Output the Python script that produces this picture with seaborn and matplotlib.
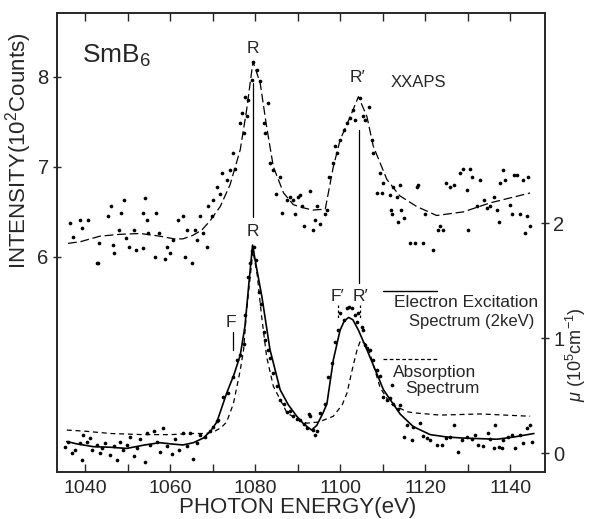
import matplotlib
matplotlib.use('Agg')

import pandas as pd
import matplotlib.pyplot as plt
import seaborn as sns

# ----------------------------------------------------
# data
# ----------------------------------------------------
# XXAPS (upper, left axis, 10^2 counts) - fitted dashed curve
xxaps_fit_e = [1036, 1039, 1043.5, 1048, 1053, 1057.6, 1061, 1063, 1065.4, 1067.5, 1069.4,
               1071.8, 1074.1, 1076.5, 1078, 1079.5, 1081.2, 1082.7, 1084.3, 1086.7, 1089,
               1091, 1093.5, 1096.5, 1098.4, 1100, 1102.4, 1104.3, 1106.3, 1107.8, 1111,
               1114, 1118, 1122.7, 1129, 1135.3, 1144.7]
xxaps_fit_i = [6.15, 6.17, 6.23, 6.25, 6.26, 6.23, 6.2, 6.2, 6.24, 6.3, 6.4,
               6.56, 6.8, 7.19, 7.63, 8.17, 7.93, 7.45, 7.0, 6.71, 6.58,
               6.55, 6.52, 6.53, 7.0, 7.3, 7.56, 7.78, 7.56, 7.23, 6.86,
               6.68, 6.56, 6.46, 6.5, 6.6, 6.71]

# XXAPS measured points
xxaps_pts_e = [1036.5, 1037.2, 1038.8, 1039.2, 1040.8, 1042.7, 1043.1, 1043.3, 1045.3, 1046.1,
               1046.5, 1046.8, 1048.0, 1048.5, 1049.2, 1049.6, 1050.4, 1051.6, 1052.0, 1053.6,
               1053.7, 1054.0, 1054.6, 1054.9, 1056.5, 1056.7, 1057.5, 1058.8, 1059.2, 1060.0,
               1060.8, 1061.9, 1063.1, 1063.5, 1063.9, 1065.1, 1065.9, 1066.3, 1067.0, 1067.8,
               1068.6, 1069.0, 1069.8, 1070.2, 1071.0, 1071.8, 1072.1, 1073.3, 1074.1, 1074.9,
               1075.3, 1076.5, 1077.0, 1077.3, 1077.6, 1078.0, 1078.4, 1079.2, 1079.6, 1080.4,
               1081.2, 1082.0, 1082.3, 1083.1, 1083.5, 1084.3, 1085.0, 1085.9, 1086.3, 1087.5,
               1088.2, 1089.0, 1089.4, 1090.2, 1090.6, 1091.0, 1091.4, 1092.9, 1093.7, 1094.1,
               1094.5, 1095.3, 1096.5, 1096.9, 1097.3, 1098.4, 1098.8, 1099.2, 1100.0, 1100.8,
               1101.6, 1102.4, 1103.1, 1103.5, 1104.7, 1105.5, 1105.9, 1106.7, 1107.5, 1107.8,
               1108.6, 1109.4, 1109.8, 1110.2, 1111.8, 1112.0, 1112.2, 1112.5, 1113.3, 1113.6,
               1114.0, 1114.4, 1115.0, 1116.5, 1117.6, 1118.0, 1118.4, 1119.6, 1120.0, 1121.9,
               1123.1, 1123.5, 1124.3, 1125.0, 1125.9, 1126.7, 1128.2, 1129.0, 1129.8, 1130.2,
               1130.6, 1131.0, 1132.2, 1133.0, 1133.8, 1134.5, 1135.3, 1136.1, 1136.9, 1137.3,
               1137.6, 1138.4, 1138.8, 1140.0, 1140.4, 1140.8, 1141.6, 1142.3, 1143.1, 1143.5,
               1143.9, 1144.3, 1144.7]
xxaps_pts_i = [6.38, 6.22, 6.41, 6.32, 6.41, 5.93, 5.93, 6.15, 6.45, 6.56,
               6.13, 6.04, 6.30, 6.49, 6.63, 6.21, 6.11, 6.30, 6.08, 6.10,
               6.49, 6.65, 6.41, 6.27, 6.00, 6.49, 6.27, 5.98, 6.11, 6.04,
               6.19, 6.41, 6.45, 6.00, 6.30, 5.93, 6.30, 6.19, 6.45, 6.27,
               6.11, 6.56, 6.45, 6.63, 6.78, 6.70, 6.93, 6.85, 6.96, 7.15,
               6.98, 7.49, 7.60, 7.38, 7.78, 7.56, 7.74, 7.97, 8.17, 8.08,
               7.95, 7.49, 7.38, 7.71, 7.04, 6.96, 6.70, 6.89, 6.49, 6.63,
               6.67, 6.63, 6.48, 6.67, 6.69, 6.56, 6.34, 6.73, 6.30, 6.41,
               6.56, 6.37, 6.48, 6.52, 6.89, 7.04, 7.23, 7.15, 7.30, 7.41,
               7.49, 7.54, 7.63, 7.52, 7.76, 7.56, 7.52, 7.67, 7.30, 7.15,
               6.71, 6.93, 6.71, 6.82, 6.69, 6.52, 6.48, 6.78, 6.67, 6.39,
               6.80, 6.52, 6.43, 6.15, 6.15, 6.78, 6.80, 6.15, 6.48, 6.08,
               6.30, 6.34, 6.30, 6.82, 6.78, 6.80, 6.93, 6.98, 6.74, 6.30,
               6.98, 6.89, 6.56, 6.85, 6.63, 6.54, 6.56, 6.67, 6.52, 6.39,
               6.82, 6.96, 6.85, 6.58, 6.48, 6.91, 6.91, 6.48, 6.85, 6.26,
               6.45, 6.89, 6.34]

# Electron excitation spectrum (2 keV), solid curve, right axis units
eels_fit_e = [1035.7, 1038, 1042, 1046, 1049.8, 1054, 1057.6, 1060, 1063, 1065.5, 1067.8,
              1069.5, 1071, 1073.3, 1075, 1076.5, 1077.6, 1078.6, 1079.4, 1080.4, 1081.6,
              1083.5, 1085.9, 1087.8, 1089.8, 1091.5, 1093.3, 1094.5, 1096, 1096.9, 1098.4,
              1100, 1101, 1102, 1103, 1104.3, 1106.3, 1110.2, 1114.1, 1117.2, 1121.2,
              1125, 1129, 1136.9, 1141, 1145.6]
eels_fit_mu = [0.10, 0.08, 0.055, 0.05, 0.04, 0.07, 0.09, 0.08, 0.07, 0.09, 0.13,
               0.19, 0.27, 0.52, 0.68, 0.85, 1.10, 1.50, 1.81, 1.60, 1.36,
               0.90, 0.55, 0.42, 0.32, 0.25, 0.20, 0.24, 0.35, 0.43, 0.81,
               1.07, 1.15, 1.18, 1.16, 1.07, 0.90, 0.55, 0.34, 0.23, 0.16,
               0.14, 0.13, 0.12, 0.14, 0.17]

# electron excitation measured points
eels_pts_e = [1035.3, 1036.1, 1036.9, 1037.6, 1038.8, 1039.2, 1039.6, 1040.4, 1041.2, 1041.6,
              1042.7, 1043.5, 1043.9, 1044.7, 1045.9, 1046.7, 1047.5, 1048.2, 1049.0, 1049.8,
              1050.6, 1051.4, 1052.2, 1053.0, 1054.1, 1054.5, 1055.3, 1056.1, 1056.9, 1057.6,
              1058.4, 1059.2, 1060.4, 1061.2, 1062.0, 1063.1, 1063.9, 1064.7, 1065.5, 1066.3,
              1067.1, 1068.2, 1069.4, 1070.2, 1071.0, 1071.3, 1072.5, 1073.7, 1074.9, 1075.7,
              1076.4, 1077.3, 1077.6, 1078.4, 1078.8, 1079.3, 1079.7, 1080.2, 1080.8, 1081.4,
              1082.0, 1082.4, 1083.1, 1083.5, 1084.3, 1085.1, 1085.9, 1086.7, 1087.5, 1088.2,
              1089.0, 1089.8, 1090.6, 1091.4, 1092.2, 1092.6, 1093.0, 1093.7, 1094.1, 1094.5,
              1095.3, 1096.5, 1097.2, 1098.0, 1098.8, 1099.6, 1100.0, 1100.8, 1101.6, 1102.2,
              1102.7, 1103.4, 1103.9, 1104.3, 1105.1, 1105.5, 1105.9, 1106.3, 1107.1, 1107.8,
              1108.6, 1109.4, 1110.2, 1111.0, 1111.8, 1112.2, 1112.5, 1113.7, 1114.1, 1115.0,
              1115.7, 1116.9, 1117.2, 1118.8, 1119.6, 1120.4, 1121.2, 1122.7, 1123.9, 1125.0,
              1125.9, 1126.7, 1127.8, 1128.6, 1129.8, 1131.0, 1131.8, 1132.5, 1133.7, 1134.9,
              1135.3, 1136.1, 1136.5, 1137.3, 1138.0, 1138.4, 1139.6, 1140.4, 1141.2, 1142.3,
              1143.1, 1143.9, 1144.7, 1145.1]
eels_pts_mu = [0.055, 0.10, 0.00, 0.03, 0.09, -0.06, 0.16, 0.10, 0.13, 0.03,
               0.07, 0.00, 0.04, 0.09, -0.02, 0.06, -0.06, 0.10, 0.03, 0.07,
               0.14, -0.03, 0.04, 0.12, -0.08, 0.17, 0.07, 0.19, 0.10, 0.01,
               0.22, 0.06, -0.01, 0.12, 0.03, 0.17, 0.06, 0.17, -0.05, 0.09,
               0.16, 0.14, 0.19, 0.23, 0.28, 0.29, 0.49, 0.52, 0.66, 0.81,
               0.85, 0.95, 1.20, 1.53, 1.65, 1.76, 1.79, 1.68, 1.40, 1.30,
               1.05, 0.98, 0.90, 0.83, 0.70, 0.58, 0.46, 0.43, 0.36, 0.37,
               0.32, 0.30, 0.29, 0.25, 0.22, 0.34, 0.32, 0.20, 0.16, 0.19,
               0.35, 0.43, 0.66, 0.78, 0.97, 1.07, 1.22, 1.16, 1.26, 1.27,
               1.26, 1.20, 1.14, 1.22, 1.10, 1.07, 0.94, 0.91, 0.90, 0.81,
               0.72, 0.67, 0.49, 0.46, 0.48, 0.59, 0.43, 0.38, 0.42, 0.14,
               0.24, 0.11, 0.23, 0.26, 0.15, 0.13, 0.11, 0.07, 0.07, 0.13,
               0.14, 0.24, 0.01, 0.11, 0.14, 0.12, 0.16, 0.07, 0.06, 0.17,
               0.12, 0.04, 0.24, 0.05, 0.04, 0.11, 0.14, 0.16, 0.04, 0.16,
               0.09, 0.22, 0.24, 0.10]

# absorption spectrum, dashed curve (10^5 cm^-1)
abs_e = [1035.7, 1040, 1045.9, 1053.7, 1060, 1065.4, 1068.5, 1070.5, 1072, 1073.3, 1074.9,
         1076.5, 1077.3, 1078, 1079.5, 1080.5, 1081.5, 1082.7, 1084.3, 1087.5, 1090, 1092.2,
         1095, 1098.4, 1100.5, 1101.6, 1103, 1104, 1104.8, 1106, 1107, 1109.4, 1111.8,
         1115.7, 1117.3, 1123.5, 1133, 1144.7]
abs_mu = [0.20, 0.19, 0.17, 0.16, 0.16, 0.17, 0.17, 0.19, 0.22, 0.27, 0.43,
          0.72, 0.90, 1.24, 1.76, 1.55, 1.20, 0.84, 0.58, 0.35, 0.29, 0.26,
          0.27, 0.32, 0.42, 0.52, 0.75, 0.90, 0.98, 0.95, 0.87, 0.57, 0.43,
          0.36, 0.35, 0.33, 0.34, 0.32]

x_ticks = [1040, 1060, 1080, 1100, 1120, 1140]
left_ticks = [6, 7, 8]
right_ticks = [0, 1, 2]

R_PEAK = 1079.5
RP_PEAK = 1104.5

# ----------------------------------------------------
# figure
# ----------------------------------------------------
sns.set_style('ticks')
plt.rcParams['font.family'] = ['Liberation Sans', 'DejaVu Sans']
plt.rcParams['mathtext.fontset'] = 'custom'
plt.rcParams['mathtext.rm'] = 'Liberation Sans'
plt.rcParams['mathtext.it'] = 'Liberation Sans:italic'

fig = plt.figure(figsize=(5.89, 5.19), dpi=100)
ax = fig.add_axes([0.0968, 0.0906, 0.8285, 0.8844])
ax2 = ax.twinx()

xx_fit = pd.DataFrame({'E': xxaps_fit_e, 'I': xxaps_fit_i})
xx_pts = pd.DataFrame({'E': xxaps_pts_e, 'I': xxaps_pts_i})
ee_fit = pd.DataFrame({'E': eels_fit_e, 'mu': eels_fit_mu})
ee_pts = pd.DataFrame({'E': eels_pts_e, 'mu': eels_pts_mu})
ab = pd.DataFrame({'E': abs_e, 'mu': abs_mu})

sns.scatterplot(data=xx_pts, x='E', y='I', ax=ax, color='black', s=7, linewidth=0)
sns.lineplot(data=xx_fit, x='E', y='I', ax=ax, color='black', lw=0.9,
             linestyle=(0, (7, 3)), estimator=None)

sns.scatterplot(data=ee_pts, x='E', y='mu', ax=ax2, color='black', s=7, linewidth=0)
sns.lineplot(data=ee_fit, x='E', y='mu', ax=ax2, color='black', lw=1.2, estimator=None)
sns.lineplot(data=ab, x='E', y='mu', ax=ax2, color='black', lw=0.9,
             linestyle=(0, (4, 3)), estimator=None)

ax.set_xlim(1033.4, 1148.2)
ax.set_ylim(3.61, 8.71)
ax2.set_ylim(-0.165, 3.83)

ax.set_xticks(x_ticks)
ax.set_xticks(range(1050, 1150, 20), minor=True)
ax.set_yticks(left_ticks)
ax2.set_yticks(right_ticks)
ax.tick_params(axis='x', which='both', direction='in', top=True, length=6, width=1,
               labelsize=14, pad=6)
ax.tick_params(axis='y', direction='inout', length=6, width=1, labelsize=14.5, pad=3)
ax2.tick_params(axis='y', direction='inout', length=6, width=1, labelsize=14.5, pad=3)
for a in (ax, ax2):
    for sp in a.spines.values():
        sp.set_linewidth(1.2)
        sp.set_visible(True)

ax.set_xlabel('')
ax.set_ylabel('')
ax2.set_ylabel('')

# peak markers
ax.plot([R_PEAK, R_PEAK], [7.93, 6.44], color='black', lw=0.9)
ax.plot([RP_PEAK, RP_PEAK], [7.41, 5.71], color='black', lw=0.9)
ax.plot([1099.6, 1099.6], [5.47, 5.32], color='black', lw=0.9, linestyle=(0, (2, 2)))
ax.plot([1104.6, 1104.6], [5.47, 5.32], color='black', lw=0.9, linestyle=(0, (2, 2)))
ax.plot([1074.8, 1074.8], [5.16, 4.97], color='black', lw=0.9)

# texts
ax.text(1039.3, 8.16, 'SmB$_6$', fontsize=19, ha='left', va='baseline')
ax.text(R_PEAK, 8.32, 'R', fontsize=12.5, ha='center', va='center')
ax.text(R_PEAK, 6.28, 'R', fontsize=12.5, ha='center', va='center')
ax.text(1104.0, 7.99, 'R′', fontsize=12.5, ha='center', va='center')
ax.text(1111.8, 7.94, 'XXAPS', fontsize=12, ha='left', va='center')
ax.text(1099.5, 5.56, 'F′', fontsize=12.5, ha='center', va='center')
ax.text(1104.9, 5.56, 'R′', fontsize=12.5, ha='center', va='center')
ax.text(1074.4, 5.27, 'F', fontsize=12.5, ha='center', va='center')

ax.plot([1110.1, 1122.8], [5.62, 5.62], color='black', lw=1.0)
ax.text(1129.6, 5.49, 'Electron Excitation', fontsize=12.5, ha='center', va='center')
ax.text(1131.0, 5.28, 'Spectrum (2keV)', fontsize=12, ha='center', va='center')
ax.plot([1110.1, 1122.8], [4.87, 4.87], color='black', lw=0.9, linestyle=(0, (3, 2)))
ax.text(1122.3, 4.71, 'Absorption', fontsize=12.5, ha='center', va='center')
ax.text(1124.0, 4.54, 'Spectrum', fontsize=12.5, ha='center', va='center')

fig.text(0.506, 0.022, 'PHOTON ENERGY(eV)', fontsize=16, ha='center', va='center')
fig.text(0.031, 0.709, 'INTENSITY(10$^2$Counts)', fontsize=16, rotation=90,
         ha='center', va='center')
fig.text(0.978, 0.316, '$\\mu$ (10$^5$cm$^{-1}$)', fontsize=13, rotation=90,
         ha='center', va='center')

plt.savefig('out.png', dpi=100)
